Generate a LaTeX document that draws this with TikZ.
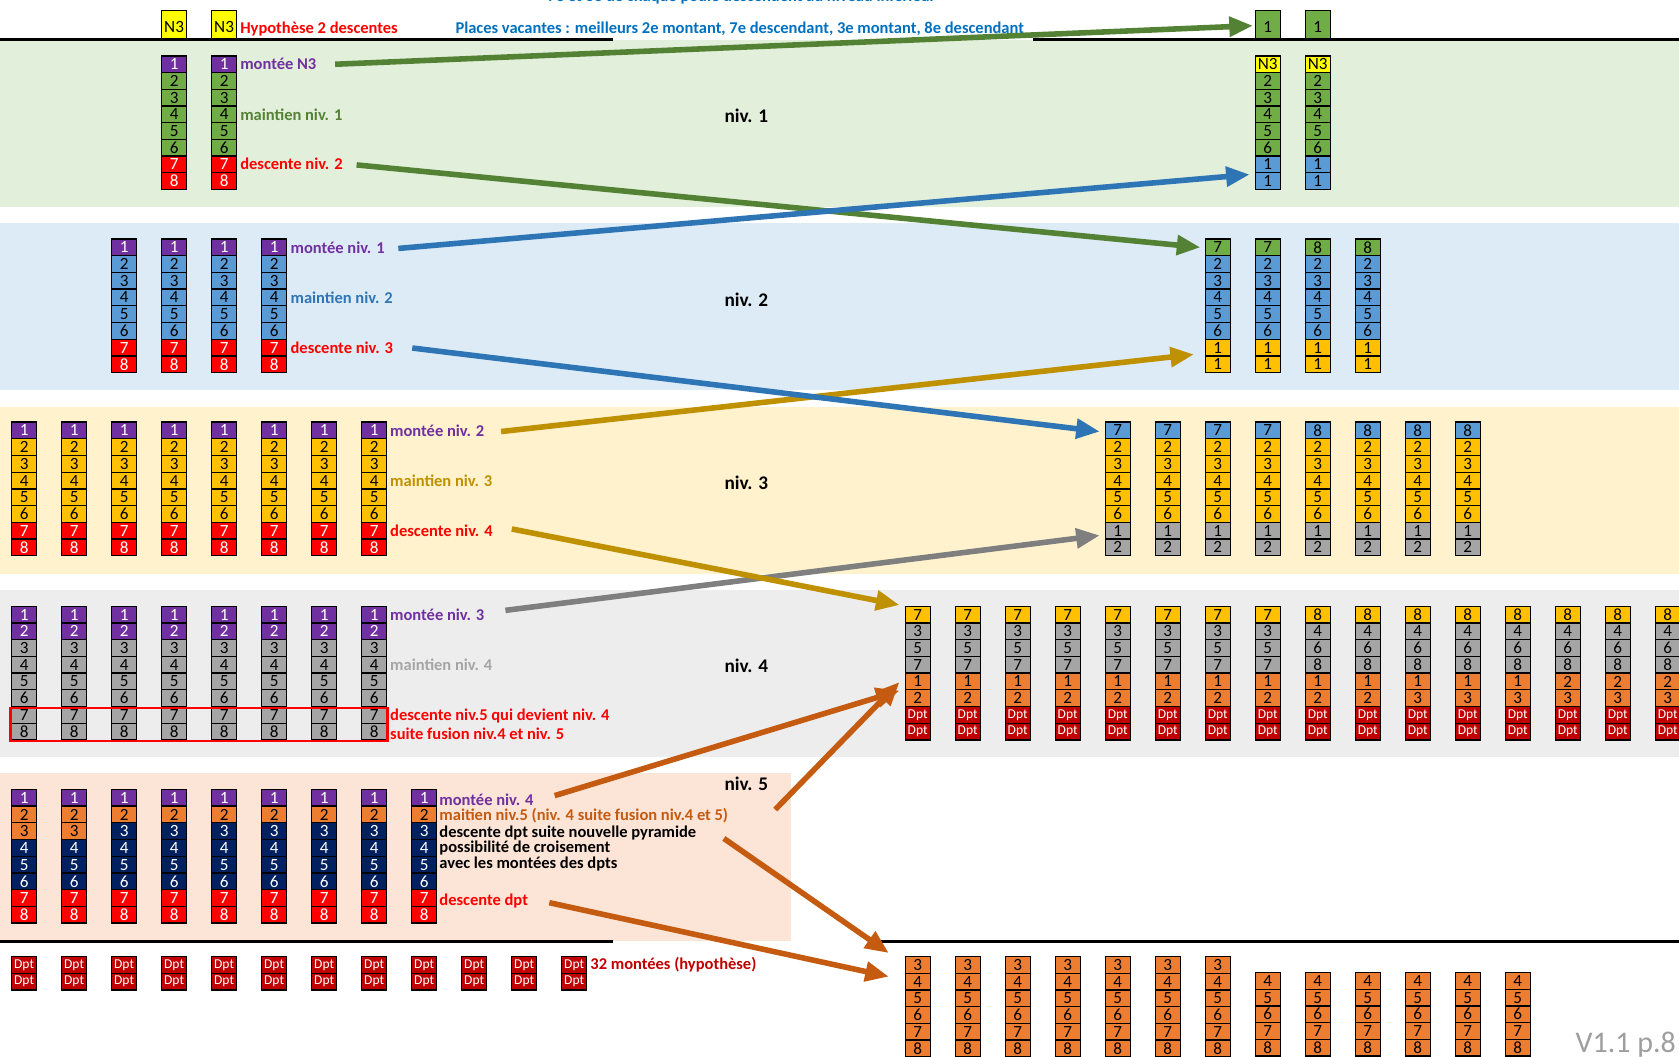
\documentclass[tikz,border=0pt]{standalone}
\usepackage{fontspec}
\setmainfont{Carlito}
\usetikzlibrary{arrows.meta}

\definecolor{cPu}{RGB}{112,48,160}
\definecolor{cGr}{RGB}{112,173,71}
\definecolor{cRd}{RGB}{255,0,0}
\definecolor{cBl}{RGB}{91,155,213}
\definecolor{cYe}{RGB}{255,192,0}
\definecolor{cGy}{RGB}{165,165,165}
\definecolor{cOg}{RGB}{237,125,49}
\definecolor{cNv}{RGB}{0,32,96}
\definecolor{cDp}{RGB}{192,0,0}
\definecolor{cN3}{RGB}{255,255,0}
\definecolor{tGr}{RGB}{84,130,53}
\definecolor{tBl}{RGB}{46,117,182}
\definecolor{tYe}{RGB}{191,144,0}
\definecolor{tOg}{RGB}{197,90,17}
\definecolor{tGy}{RGB}{127,127,127}
\definecolor{tVac}{RGB}{0,112,192}
\definecolor{bGr}{RGB}{226,239,218}
\definecolor{bBl}{RGB}{221,235,247}
\definecolor{bYe}{RGB}{255,242,204}
\definecolor{bGy}{RGB}{237,237,237}
\definecolor{bOg}{RGB}{252,228,214}

\newfontfamily\dptfont{Carlito}[Scale=0.79]
\newcommand{\Dpt}{{\dptfont Dpt}}

\tikzset{
  cell/.style={draw=black, line width=0.6pt, minimum width=11.7pt, minimum height=7.8pt, inner sep=0pt},
  tall/.style={cell, anchor=south, text height=9pt, text depth=1.6pt, inner ysep=1.4pt},
  lab/.style={anchor=west, inner sep=0pt, font=\bfseries\fontsize{7.7}{8}\selectfont},
  niv/.style={inner sep=0pt, font=\bfseries\fontsize{9}{10}\selectfont},
  arr/.style={line width=2.6pt, -{Triangle[length=11pt,width=9pt]}}
}

% pile of cells: name, x, y of first cell, list fill/text colour/text
\newcommand{\pile}[4]{%
  \foreach \fc/\tc/\tx [count=\nn] in {#4}
    \node[cell, fill=\fc, text=\tc] (#1-\nn) at ({#2},{#3+(\nn-1)*15.6}) {\tx};
}

\begin{document}
\fontsize{8}{8}\selectfont
\begin{tikzpicture}[x=0.5pt,y=-0.5pt]
\useasboundingbox (0,0) rectangle (1568,987);

%Shape: bands
\fill[bGr] (0,37) rectangle (1568,193);
\fill[bBl] (0,208) rectangle (1568,364);
\fill[bYe] (0,380) rectangle (1568,536);
\fill[bGy] (0,551) rectangle (1568,707);
\fill[bOg] (0,722) rectangle (739,879);
\draw[line width=1.3pt] (0,37) -- (572,37) (965,37) -- (1568,37);
\draw[line width=1.3pt] (0,879) -- (572,879) (820,879) -- (1568,879);

% Text Node
\node[lab, text=tVac] (tit) at (511,-3) {7e et 8e de chaque poule descendent au niveau inférieur};
\node[lab, text=cRd] (hyp) at (224,27) {Hypothèse 2 descentes};
\node[lab, text=tVac] (vac) at (425,27) {Places vacantes : meilleurs 2e montant, 7e descendant, 3e montant, 8e descendant};

\node[niv] (n1) at (697,108) {niv. 1};
\node[niv] (n2) at (697,280) {niv. 2};
\node[niv] (n3) at (697,451) {niv. 3};
\node[niv] (n4) at (697,622) {niv. 4};
\node[niv] (n5) at (697,732) {niv. 5};

% niv. 1
\foreach \k in {3,4}{
  \node[tall, fill=cN3] (t\k) at ({22.5+46.7*\k},37) {N3};
  \pile{a\k}{22.5+46.7*\k}{60}{cPu/white/1,cGr/black/2,cGr/black/3,cGr/black/4,cGr/black/5,cGr/black/6,cRd/white/7,cRd/white/8}
}
\foreach \k in {7,8}{
  \node[tall, fill=cGr] (u\k) at ({857+46.7*\k},37) {1};
  \pile{b\k}{857+46.7*\k}{60}{cN3/black/N3,cGr/black/2,cGr/black/3,cGr/black/4,cGr/black/5,cGr/black/6,cBl/black/1,cBl/black/1}
}
\node[lab, text=cPu] (m1) at (224,60) {montée N3};
\node[lab, text=tGr] (k1) at (224,107) {maintien niv. 1};
\node[lab, text=cRd] (d1) at (224,153) {descente niv. 2};

% niv. 2
\foreach \k in {2,...,5}{
  \pile{c\k}{22.5+46.7*\k}{231}{cPu/white/1,cBl/black/2,cBl/black/3,cBl/black/4,cBl/black/5,cBl/black/6,cRd/white/7,cRd/white/8}
}
\foreach \k/\h in {6/7,7/7,8/8,9/8}{
  \pile{e\k}{857+46.7*\k}{231}{cGr/black/\h,cBl/black/2,cBl/black/3,cBl/black/4,cBl/black/5,cBl/black/6,cYe/black/1,cYe/black/1}
}
\node[lab, text=cPu] (m2) at (271,231) {montée niv. 1};
\node[lab, text=tBl] (k2) at (271,278) {maintien niv. 2};
\node[lab, text=cRd] (d2) at (271,325) {descente niv. 3};

% niv. 3
\foreach \k in {0,...,7}{
  \pile{f\k}{22.5+46.7*\k}{402}{cPu/white/1,cYe/black/2,cYe/black/3,cYe/black/4,cYe/black/5,cYe/black/6,cRd/white/7,cRd/white/8}
}
\foreach \k/\h in {4/7,5/7,6/7,7/7,8/8,9/8,10/8,11/8}{
  \pile{g\k}{857+46.7*\k}{402}{cBl/black/\h,cYe/black/2,cYe/black/3,cYe/black/4,cYe/black/5,cYe/black/6,cGy/black/1,cGy/black/2}
}
\node[lab, text=cPu] (m3) at (364,402) {montée niv. 2};
\node[lab, text=tYe] (k3) at (364,449) {maintien niv. 3};
\node[lab, text=cRd] (d3) at (364,496) {descente niv. 4};

% niv. 4
\foreach \k in {0,...,7}{
  \pile{h\k}{22.5+46.7*\k}{574}{cPu/white/1,cPu/white/2,cGy/black/3,cGy/black/4,cGy/black/5,cGy/black/6,cGy/black/7,cGy/black/8}
}
\foreach \k in {0,...,7}{
  \pile{p\k}{857+46.7*\k}{574}{cYe/black/7,cGy/black/3,cGy/black/5,cGy/black/7,cOg/black/1,cOg/black/2,cDp/white/\Dpt,cDp/white/\Dpt}
}
\foreach \k/\ua/\ub in {8/1/2,9/1/2,10/1/3,11/1/3,12/1/3,13/2/3,14/2/3,15/2/3}{
  \pile{p\k}{857+46.7*\k}{574}{cYe/black/8,cGy/black/4,cGy/black/6,cGy/black/8,cOg/black/\ua,cOg/black/\ub,cDp/white/\Dpt,cDp/white/\Dpt}
}
\draw[draw=cRd, line width=1.2pt] (10,661) rectangle (362,692);
\node[lab, text=cPu] (m4) at (364,574) {montée niv. 3};
\node[lab, text=cGy] (k4) at (364,621) {maintien niv. 4};
\node[lab, text=cRd] (d4) at (364,669) {descente niv.5 qui devient niv. 4};
\node[lab, text=cRd] (s4) at (364,685) {suite fusion niv.4 et niv. 5};

% niv. 5
\foreach \k in {0,1}{
  \pile{q\k}{22.5+46.7*\k}{745}{cPu/white/1,cOg/black/2,cOg/black/3,cNv/white/4,cNv/white/5,cNv/white/6,cRd/white/7,cRd/white/8}
}
\foreach \k in {2,...,8}{
  \pile{q\k}{22.5+46.7*\k}{745}{cPu/white/1,cOg/black/2,cNv/white/3,cNv/white/4,cNv/white/5,cNv/white/6,cRd/white/7,cRd/white/8}
}
\node[lab, text=cPu] (m5) at (410,747) {montée niv. 4};
\node[lab, text=tOg] (k5) at (410,762) {maitien niv.5 (niv. 4 suite fusion niv.4 et 5)};
\node[lab] (x5a) at (410,778) {descente dpt suite nouvelle pyramide};
\node[lab] (x5b) at (410,792) {possibilité de croisement};
\node[lab] (x5c) at (410,807) {avec les montées des dpts};
\node[lab, text=cRd] (d5) at (410,841) {descente dpt};

% dpts
\foreach \k in {0,...,11}{
  \pile{r\k}{22.5+46.7*\k}{901}{cDp/white/\Dpt,cDp/white/\Dpt}
}
\node[lab, text=cDp] (mt) at (551,901) {32 montées (hypothèse)};
\foreach \k in {0,...,6}{
  \pile{s\k}{857+46.7*\k}{901}{cOg/black/3,cOg/black/4,cOg/black/5,cOg/black/6,cOg/black/7,cOg/black/8}
}
\foreach \k in {7,...,12}{
  \pile{s\k}{857+46.7*\k}{916}{cOg/black/4,cOg/black/5,cOg/black/6,cOg/black/7,cOg/black/8}
}

\node[anchor=base west, inner sep=0pt, text=black!38, font=\fontsize{14}{14}\selectfont] (ver) at (1471,983) {V1.1 p.8};

% arrows
\coordinate (g1s) at (313,60);   \coordinate (g1e) at (1170,24);
\coordinate (g2s) at (333,154);  \coordinate (g2e) at (1121,231);
\coordinate (b1s) at (372,232);  \coordinate (b1e) at (1167,163);
\coordinate (b2s) at (385,325);  \coordinate (b2e) at (1027,403);
\coordinate (y1s) at (468,403);  \coordinate (y1e) at (1115,331);
\coordinate (y2s) at (478,494);  \coordinate (y2e) at (840,565);
\coordinate (x1s) at (472,570);  \coordinate (x1e) at (1027,500);
\coordinate (o1s) at (518,743);  \coordinate (o1e) at (840,645);
\coordinate (o2s) at (724,756);  \coordinate (o2e) at (840,637);
\coordinate (o3s) at (676,783);  \coordinate (o3e) at (830,890);
\coordinate (o4s) at (513,843);  \coordinate (o4e) at (830,912);
\draw[arr, tGr] (g1s) -- (g1e);
\draw[arr, tGr] (g2s) -- (g2e);
\draw[arr, tBl] (b1s) -- (b1e);
\draw[arr, tYe] (y1s) -- (y1e);
\draw[arr, tBl] (b2s) -- (b2e);
\draw[arr, tGy] (x1s) -- (x1e);
\draw[arr, tYe] (y2s) -- (y2e);
\draw[arr, tOg] (o1s) -- (o1e);
\draw[arr, tOg] (o2s) -- (o2e);
\draw[arr, tOg] (o3s) -- (o3e);
\draw[arr, tOg] (o4s) -- (o4e);

\end{tikzpicture}
\end{document}
